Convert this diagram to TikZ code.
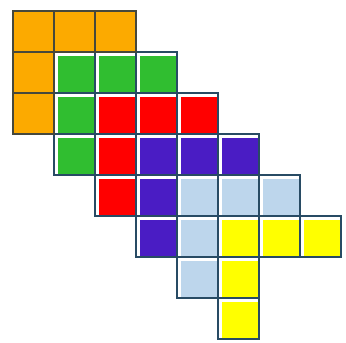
\documentclass[tikz,border=0pt]{standalone}
\definecolor{cOr}{RGB}{252,170,0}
\definecolor{cGr}{RGB}{48,190,48}
\definecolor{cRd}{RGB}{255,0,0}
\definecolor{cPu}{RGB}{74,28,196}
\definecolor{cLb}{RGB}{189,214,236}
\definecolor{cYe}{RGB}{255,255,0}
\definecolor{lnBl}{RGB}{40,75,100}
\definecolor{lnOr}{RGB}{70,72,60}
\begin{document}
\begin{tikzpicture}[x=1pt,y=-1pt,
  cellfill/.style={fill=#1, draw=none},
  cellline/.style={draw=#1, line width=2pt, line join=miter}]
\useasboundingbox (0,0) rectangle (346,343);
\fill[white] (0,0) rectangle (346,343);
% blue-framed cells: col/row/colour
\foreach \c/\r/\k in {1/1/cGr,2/1/cGr,3/1/cGr,1/2/cGr,1/3/cGr,
  2/2/cRd,3/2/cRd,4/2/cRd,2/3/cRd,2/4/cRd,
  3/3/cPu,4/3/cPu,5/3/cPu,3/4/cPu,3/5/cPu,
  4/4/cLb,5/4/cLb,6/4/cLb,4/5/cLb,4/6/cLb,
  5/5/cYe,6/5/cYe,7/5/cYe,5/6/cYe,5/7/cYe}{
  \fill[\k] ({13+41*\c+3.5},{11+41*\r+3.5}) rectangle ({13+41*\c+39.5},{11+41*\r+39.5});
}
\foreach \c/\r in {1/1,2/1,3/1,1/2,1/3,2/2,3/2,4/2,2/3,2/4,
  3/3,4/3,5/3,3/4,3/5,4/4,5/4,6/4,4/5,4/6,5/5,6/5,7/5,5/6,5/7}{
  \draw[cellline=lnBl] ({13+41*\c},{11+41*\r}) rectangle ({13+41*\c+41},{11+41*\r+41});
}
% orange cells
\foreach \c/\r in {0/0,1/0,2/0,0/1,0/2}{
  \fill[cOr] ({13+41*\c},{11+41*\r}) rectangle ({13+41*\c+41},{11+41*\r+41});
}
\foreach \c/\r in {0/0,1/0,2/0,0/1,0/2}{
  \draw[cellline=lnOr] ({13+41*\c},{11+41*\r}) rectangle ({13+41*\c+41},{11+41*\r+41});
}
\end{tikzpicture}
\end{document}
